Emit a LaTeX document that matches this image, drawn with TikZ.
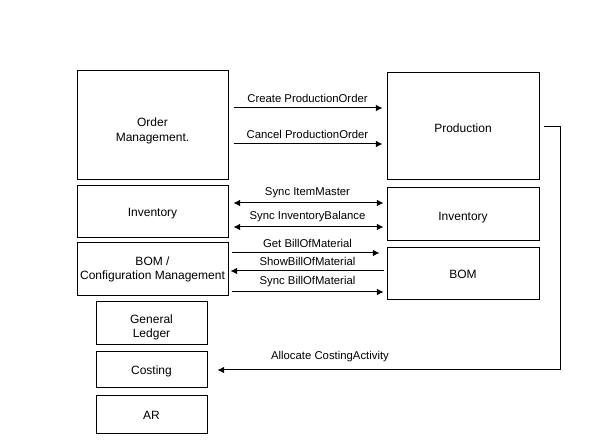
\documentclass[tikz,border=0pt]{standalone}
\usepackage{fontspec}
\setmainfont{Liberation Sans}
\usetikzlibrary{arrows.meta}
\newcommand\lowtxt[2]{\raisebox{-#1}[\height][\depth]{\begin{tabular}{@{}c@{}}#2\end{tabular}}}
\begin{document}
\begin{tikzpicture}[x=0.75pt,y=-0.75pt,
  box/.style={draw,line width=0.75pt,align=center,font=\fontsize{9}{11}\selectfont,inner sep=0pt,anchor=center},
  wide/.style={minimum width=113.25pt},
  wider/.style={minimum width=114pt},
  small/.style={minimum width=83.25pt},
  lbl/.style={font=\fontsize{8.5}{10}\selectfont,inner sep=0pt},
  arr/.style={line width=0.75pt,-{Latex[length=5pt,width=5pt]}},
  darr/.style={line width=0.75pt,{Latex[length=5pt,width=5pt]}-{Latex[length=5pt,width=5pt]}}]
\useasboundingbox (0,0) rectangle (590,442);
\node[box,wide,minimum height=81.75pt] (om) at (152.5,125.5) {\lowtxt{4pt}{Order\\Management.}};
\node[box,wider,minimum height=80.25pt] (prod) at (463,126.5) {\lowtxt{2pt}{Production}};
\node[box,wide,minimum height=39pt] (invL) at (152.5,212) {\lowtxt{1.5pt}{Inventory}};
\node[box,wider,minimum height=39.75pt] (invR) at (463,214.5) {\lowtxt{2pt}{Inventory}};
\node[box,wide,minimum height=39.75pt] (bomL) at (152.5,269.5) {\lowtxt{0pt}{BOM /\\Configuration Management}};
\node[box,wider,minimum height=39pt] (bomR) at (463,274) {BOM};
\node[box,small,minimum height=32.25pt] (gl) at (151.5,323.5) {\lowtxt{3pt}{General\\Ledger}};
\node[box,small,minimum height=27pt] (cost) at (151.5,370) {\lowtxt{1.5pt}{Costing}};
\node[box,small,minimum height=28.5pt] (ar) at (151.5,415) {AR};

\draw[arr,shorten <=3.75pt,shorten >=3pt] (om.east |- 0,108) -- node[lbl,above=3.5pt]{Create ProductionOrder} (prod.west |- 0,108);
\draw[arr,shorten <=3.75pt,shorten >=3pt] (om.east |- 0,144) -- node[lbl,above=3.5pt]{Cancel ProductionOrder} (prod.west |- 0,144);
\draw[darr,shorten <=3.75pt,shorten >=2.25pt] (invL.east |- 0,203) -- node[lbl,above=3.5pt]{Sync ItemMaster} (invR.west |- 0,203);
\draw[darr,shorten <=3.75pt,shorten >=2.25pt] (invL.east |- 0,227) -- node[lbl,above=3.5pt]{Sync InventoryBalance} (invR.west |- 0,227);
\draw[arr,shorten <=2.25pt,shorten >=5.25pt] (bomL.east |- 0,253) -- node[lbl,above=3.5pt]{Get BillOfMaterial} (bomR.west |- 0,253);
\draw[arr,shorten <=2.25pt,shorten >=1.5pt] (bomR.west |- 0,271) -- node[lbl,above=3.5pt]{ShowBillOfMaterial} (bomL.east |- 0,271);
\draw[arr,shorten <=2.25pt,shorten >=2.25pt] (bomL.east |- 0,292) -- node[lbl,above=3.5pt]{Sync BillOfMaterial} (bomR.west |- 0,292);
\draw[arr,shorten <=3pt,shorten >=7.5pt] (prod.east) -- ++(21,0) |- (cost.east);
\node[lbl] (alloc) at (330,357) {Allocate CostingActivity};
\end{tikzpicture}
\end{document}
